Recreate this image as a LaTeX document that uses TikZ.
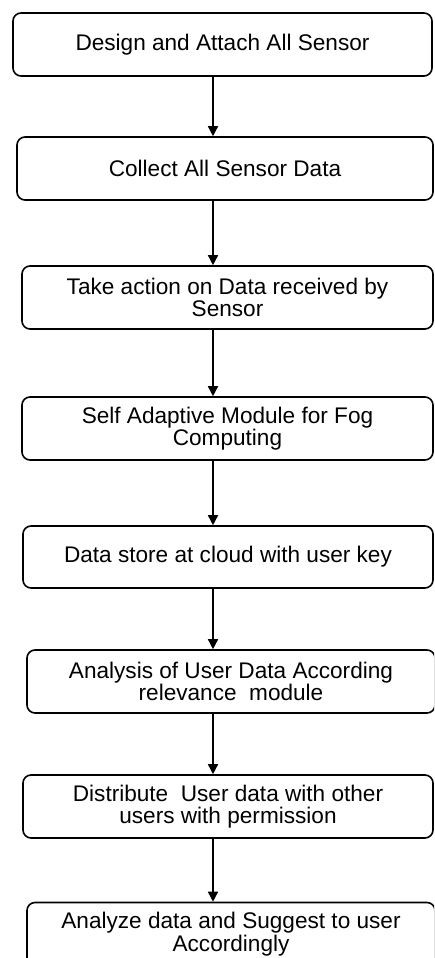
\documentclass[tikz,border=0pt]{standalone}
\usepackage{fontspec}
\setmainfont{Liberation Sans}
\usetikzlibrary{arrows.meta}
\begin{document}
\begin{tikzpicture}[x=1pt,y=-1pt,
  box/.style={draw=black, line width=1.6pt, rounded corners=8pt, fill=white,
    minimum height=63pt, inner sep=0pt, align=center,
    font=\fontsize{22.6}{22.5}\selectfont},
  flow/.style={draw=black, line width=1.5pt, -{Triangle[width=10pt,length=10pt]}}]
\useasboundingbox (0,0) rectangle (434,958);
\clip (0,0) rectangle (434,958);
\fill[white] (0,0) rectangle (434,958);
\coordinate (ax) at (213,0);
\node[box, minimum width=419pt] (b1) at (222.5,44.5) {Design and Attach All Sensor};
\node[box, minimum width=416pt] (b2) at (225,168.5) {Collect All Sensor Data};
\node[box, minimum width=411pt] (b3) at (227.5,297.5) {Take action on Data received by\\Sensor};
\node[box, minimum width=411pt] (b4) at (227.5,428.5) {Self Adaptive Module for Fog\\Computing};
\node[box, minimum width=410pt, minimum height=62pt] (b5) at (228,557) {Data store at cloud with user key};
\node[box, minimum width=408pt] (b6) at (231,681.5) {Analysis of User Data According\\relevance\ \ module};
\node[box, minimum width=410pt] (b7) at (228,806.5) {Distribute\ \ User data with other\\users with permission};
\node[box, minimum width=408pt] (b8) at (231,934) {Analyze data and Suggest to user\\Accordingly};
\draw[flow] (b1.south -| ax) -- (b2.north -| ax);
\draw[flow] (b2.south -| ax) -- (b3.north -| ax);
\draw[flow] (b3.south -| ax) -- (b4.north -| ax);
\draw[flow] (b4.south -| ax) -- (b5.north -| ax);
\draw[flow] (b5.south -| ax) -- (b6.north -| ax);
\draw[flow] (b6.south -| ax) -- (b7.north -| ax);
\draw[flow] (b7.south -| ax) -- (b8.north -| ax);
\end{tikzpicture}
\end{document}
